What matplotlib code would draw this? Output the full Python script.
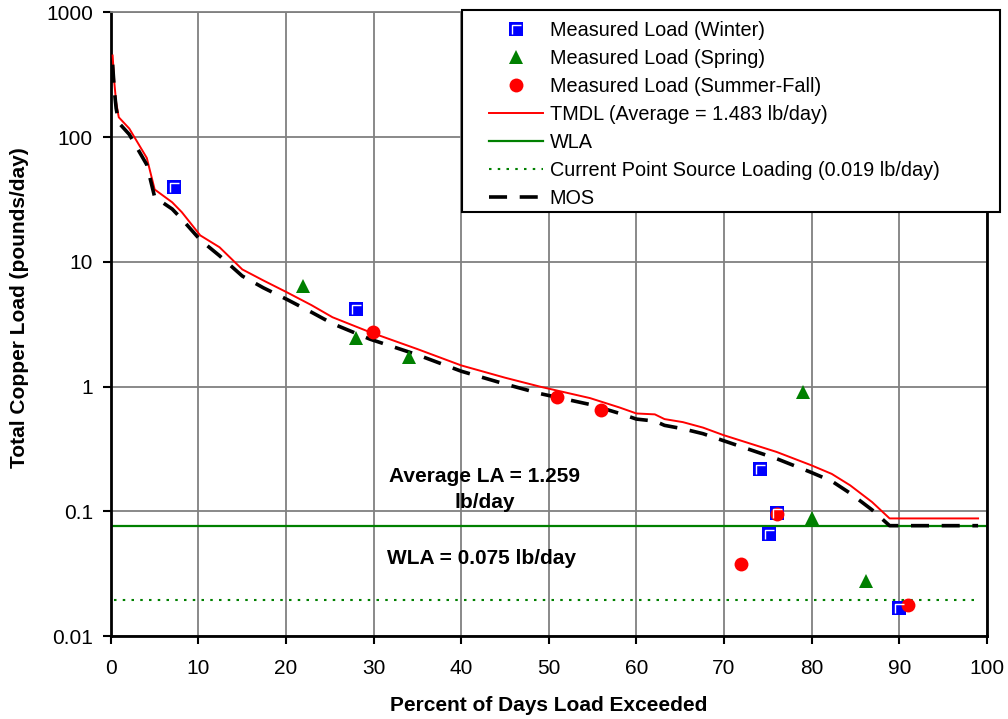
import numpy as np
import matplotlib
matplotlib.use('Agg')
from matplotlib import pyplot as plt
from matplotlib.path import Path
from matplotlib.patches import Rectangle
from matplotlib.legend_handler import HandlerTuple
from matplotlib.ticker import FixedLocator, FuncFormatter

plt.rcParams['font.family'] = ['Liberation Sans', 'DejaVu Sans']

# measured loads
winter_x = [7.2, 28.0, 74.1, 75.1, 76.0, 90.0]
winter_y = [40.0, 4.2, 0.218, 0.066, 0.097, 0.017]
spring_x = [21.9, 28.0, 34.0, 79.0, 80.0, 86.2]
spring_y = [6.4, 2.45, 1.72, 0.90, 0.089, 0.028]
summer_x = [29.9, 50.9, 55.9, 71.9, 76.0, 91.0]
summer_y = [2.75, 0.82, 0.65, 0.038, 0.095, 0.0177]

# load duration curves
tmdl_x = [0.2, 0.4, 0.6, 0.9, 2.1, 4.1, 5.0, 7.0, 8.1, 10.2, 12.4, 15.0, 17.4, 20.1,
          22.9, 25.3, 29.6, 35.0, 40.0, 45.0, 49.0, 54.7, 58.1, 60.0, 62.1, 63.2,
          65.3, 67.6, 69.9, 76.0, 80.0, 82.3, 84.4, 86.9, 88.9, 99.0]
tmdl_y = [450, 270, 190, 144, 117, 68, 38, 30, 25, 16.3, 13.1, 8.7, 7.1, 5.7,
          4.5, 3.6, 2.73, 2.0, 1.48, 1.18, 1.0, 0.81, 0.68, 0.61, 0.60, 0.55,
          0.52, 0.47, 0.41, 0.30, 0.234, 0.20, 0.162, 0.119, 0.088, 0.088]
mos_x = [0.2, 0.4, 0.6, 0.9, 2.1, 4.1, 5.0, 7.0, 8.1, 10.2, 12.4, 15.0, 17.4, 20.1,
         22.9, 25.3, 29.6, 35.0, 40.0, 45.0, 49.0, 54.7, 58.1, 60.0, 62.1, 63.2,
         65.3, 67.6, 69.9, 76.0, 80.0, 82.3, 84.4, 86.9, 88.9, 99.0]
mos_y = [380, 235, 170, 130, 105, 60, 33, 26.5, 22, 15.0, 11.2, 7.7, 6.2, 5.0,
         3.95, 3.2, 2.4, 1.8, 1.33, 1.05, 0.88, 0.72, 0.61, 0.55, 0.53, 0.49,
         0.46, 0.42, 0.37, 0.265, 0.205, 0.175, 0.14, 0.103, 0.077, 0.077]

wla = 0.077
point_source = 0.0194

x_ticks = list(range(0, 101, 10))
y_ticks = [0.01, 0.1, 1, 10, 100, 1000]

fig = plt.figure(figsize=(10.08, 7.19), dpi=100)
ax = fig.add_axes([0.110, 0.115, 0.869, 0.868])

ax.set_yscale('log')
ax.set_xlim(0, 100)
ax.set_ylim(0.01, 1000)
ax.xaxis.set_major_locator(FixedLocator(x_ticks))
ax.yaxis.set_major_locator(FixedLocator(y_ticks))
ax.yaxis.set_minor_locator(FixedLocator([]))
ax.yaxis.set_major_formatter(FuncFormatter(lambda v, p: '%g' % v))
ax.grid(True, color='#808080', lw=1.3)
ax.set_axisbelow(True)
ax.tick_params(direction='out', length=6, width=1.5, labelsize=15)
ax.tick_params(axis='x', pad=10)
ax.tick_params(axis='y', pad=7)
for side in ['left', 'bottom', 'right']:
    ax.spines[side].set_linewidth(2)
ax.spines['top'].set_color('#808080')
ax.spines['top'].set_linewidth(1.3)

# lines
l_tmdl, = ax.plot(tmdl_x, tmdl_y, color='red', lw=1.4, zorder=3)
l_wla, = ax.plot([0, 100], [wla, wla], color='green', lw=1.6, zorder=2)
l_ps, = ax.plot([0.3, 99], [point_source, point_source], color='green', lw=1.5,
                ls=(0, (1.2, 3)), zorder=2)
l_mos, = ax.plot(mos_x, mos_y, color='black', lw=2.6, ls=(0, (5, 3.5)), zorder=3)

# markers
ms = 9.4
corner = Path([(-0.3, -0.35), (-0.3, 0.3), (0.35, 0.3)],
              [Path.MOVETO, Path.LINETO, Path.LINETO])
w_sq, = ax.plot(winter_x, winter_y, 's', color='#0000ff', ms=ms, mew=0, zorder=4)
w_l, = ax.plot(winter_x, winter_y, ls='none', marker=corner, ms=ms * 0.7,
               mfc='none', mec='white', mew=1.0, zorder=5)
s_tri, = ax.plot(spring_x, spring_y, '^', color='green', ms=10.5, mew=0, zorder=4)
r_dot, = ax.plot(summer_x, summer_y, 'o', color='red', ms=10, mew=0, zorder=4)

ax.text(42.7, 0.151, 'Average LA = 1.259\nlb/day', ha='center', va='center',
        fontsize=15, fontweight='bold', linespacing=1.45)
ax.text(31.5, 0.042, 'WLA = 0.075 lb/day', ha='left', va='center',
        fontsize=15, fontweight='bold')

ax.set_xlabel('Percent of Days Load Exceeded', fontsize=15, fontweight='bold')
ax.xaxis.label.set_va('center')
ax.xaxis.set_label_coords(0.5, -0.111)
ax.set_ylabel('Total Copper Load (pounds/day)', fontsize=15, fontweight='bold')
ax.yaxis.label.set_va('center')
ax.yaxis.set_label_coords(-0.104, 0.527)

# legend box drawn separately so its padding matches the original
fig.patches.append(Rectangle((462 / 1008, 1 - 212 / 719), 538 / 1008, 202 / 719,
                             transform=fig.transFigure, fc='white', ec='black',
                             lw=1.5, zorder=4))

handles = [(w_sq, w_l), s_tri, r_dot, l_tmdl, l_wla, l_ps, l_mos]
labels = ['Measured Load (Winter)', 'Measured Load (Spring)',
          'Measured Load (Summer-Fall)', 'TMDL (Average = 1.483 lb/day)', 'WLA',
          'Current Point Source Loading (0.019 lb/day)', 'MOS']
leg = fig.legend(handles, labels, loc='upper left',
                 bbox_to_anchor=(489 / 1008, 1 - 21 / 719),
                 fontsize=14.3, frameon=False, borderpad=0, borderaxespad=0,
                 handlelength=2.7, handletextpad=0.36, labelspacing=0.45,
                 handler_map={tuple: HandlerTuple(ndivide=1, pad=0)})

fig.savefig('out.png', dpi=100)
